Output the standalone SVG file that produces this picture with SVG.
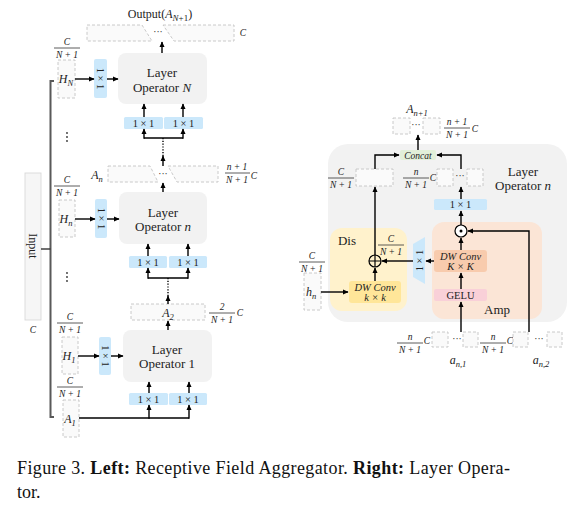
<svg xmlns="http://www.w3.org/2000/svg" width="587" height="517" viewBox="0 0 587 517">
<defs>
<marker id="ah" viewBox="0 0 10 10" refX="9" refY="5" markerWidth="6" markerHeight="6" markerUnits="userSpaceOnUse" orient="auto"><path d="M0,0.5 L10,5 L0,9.5 z" fill="#000"/></marker>
<style>
text{font-family:"Liberation Serif","DejaVu Serif",serif;fill:#222;}
.t13{font-size:13px;text-anchor:middle;}
.t11{font-size:12px;text-anchor:middle;}
.t9{font-size:9.5px;text-anchor:middle;}
.b{font-size:10.5px;text-anchor:middle;}
.fr{font-size:9.5px;text-anchor:middle;font-style:italic;}
.it{font-style:italic;}
.op{fill:#f2f2f2;}
.blue{fill:#cbe8fb;}
.dash{fill:#fafafa;stroke:#c4c4c4;stroke-width:0.9;stroke-dasharray:3,2;}
.ln{fill:none;stroke:#000;stroke-width:1.4;}
.arr{fill:none;stroke:#000;stroke-width:1.4;marker-end:url(#ah);}
.dot{fill:none;stroke:#000;stroke-width:1.4;stroke-dasharray:1.2,1.6;}
.frl{stroke:#333;stroke-width:0.8;}
.cap{font-size:18px;fill:#111;}
</style>
</defs>

<!-- LEFT PANEL -->
<g id="input">
<rect x="25" y="173" width="16" height="147" fill="#f6f6f6" stroke="#d9d9d9" stroke-width="0.9"/>
<text class="t11" font-size="11" transform="translate(33,246) rotate(90)" dy="4">Input</text>
<text class="t9 it" x="33" y="333">C</text>
</g>

<g id="output">
<text class="t11" x="160" y="18" font-size="12.5">Output(<tspan class="it">A</tspan><tspan font-size="9" dy="2.5" class="it">N</tspan><tspan font-size="9">+1</tspan><tspan dy="-2.5">)</tspan></text>
<polygon class="dash" points="87,25 142,25 152,41 87,41"/>
<polygon class="dash" points="163,25 234,25 234,41 174,41"/>
<text class="t9" x="158" y="35">···</text>
<text class="t9 it" x="243" y="36">C</text>
</g>

<g id="layerN">
<rect class="op" x="118" y="53" width="89" height="51" rx="8"/>
<text class="t13" x="162" y="77">Layer</text>
<text class="t13" x="162" y="92">Operator <tspan class="it">N</tspan></text>
<rect class="blue" x="94" y="59" width="13" height="39" rx="2"/>
<text class="b" transform="translate(100.5,78.5) rotate(90)" dy="3.5">1 × 1</text>
<rect class="blue" x="124" y="117" width="39" height="12" rx="1.5"/>
<rect class="blue" x="164" y="117" width="39" height="12" rx="1.5"/>
<text class="b" x="143.5" y="126.5">1 × 1</text>
<text class="b" x="183.5" y="126.5">1 × 1</text>
</g>
<g id="HN">
<rect class="dash" x="58" y="60" width="17" height="38"/>
<text class="t11 it" x="66" y="83">H<tspan font-size="8.5" dy="2.5">N</tspan></text>
<text class="fr" x="67" y="44.5">C</text><line class="frl" x1="54" y1="48" x2="80" y2="48"/><text class="fr" x="67" y="57.5">N + 1</text>
</g>

<g id="An">
<text class="t11 it" x="97" y="179">A<tspan font-size="8.5" dy="2.5">n</tspan></text>
<polygon class="dash" points="108,166 150,166 158,182 108,182"/>
<polygon class="dash" points="168,166 218,166 218,182 177,182"/>
<text class="t9" x="163" y="177">···</text>
<text class="fr" x="237" y="169.5">n + 1</text><line class="frl" x1="225" y1="173" x2="250" y2="173"/><text class="fr" x="237" y="182.5">N + 1</text>
<text class="t9 it" x="254" y="179">C</text>
</g>

<g id="layern">
<rect class="op" x="119" y="192" width="88" height="52" rx="8"/>
<text class="t13" x="163" y="217">Layer</text>
<text class="t13" x="163" y="231">Operator <tspan class="it">n</tspan></text>
<rect class="blue" x="95" y="199" width="12" height="39" rx="2"/>
<text class="b" transform="translate(101,218.5) rotate(90)" dy="3.5">1 × 1</text>
<rect class="blue" x="129" y="256" width="38" height="12" rx="1.5"/>
<rect class="blue" x="169" y="256" width="38" height="12" rx="1.5"/>
<text class="b" x="148" y="265.5">1 × 1</text>
<text class="b" x="188" y="265.5">1 × 1</text>
</g>
<g id="Hn">
<rect class="dash" x="59" y="200" width="16" height="37"/>
<text class="t11 it" x="66" y="223">H<tspan font-size="8.5" dy="2.5">n</tspan></text>
<text class="fr" x="67" y="182.5">C</text><line class="frl" x1="54" y1="186" x2="80" y2="186"/><text class="fr" x="67" y="195.5">N + 1</text>
</g>

<g id="A2">
<rect class="dash" x="131" y="304" width="74" height="16"/>
<text class="t11 it" x="168" y="317">A<tspan font-size="8.5" dy="2.5">2</tspan></text>
<text class="fr" x="222" y="309.5">2</text><line class="frl" x1="209" y1="313" x2="235" y2="313"/><text class="fr" x="222" y="322.5">N + 1</text>
<text class="t9 it" x="240" y="316">C</text>
</g>

<g id="layer1">
<rect class="op" x="123" y="330" width="89" height="52" rx="8"/>
<text class="t13" x="167" y="354">Layer</text>
<text class="t13" x="167" y="368">Operator 1</text>
<rect class="blue" x="99" y="337" width="12" height="38" rx="2"/>
<text class="b" transform="translate(105,356) rotate(90)" dy="3.5">1 × 1</text>
<rect class="blue" x="129" y="393" width="39" height="12" rx="1.5"/>
<rect class="blue" x="169" y="393" width="38" height="12" rx="1.5"/>
<text class="b" x="148.5" y="402.5">1 × 1</text>
<text class="b" x="188" y="402.5">1 × 1</text>
</g>
<g id="H1">
<rect class="dash" x="62" y="337" width="16" height="37"/>
<text class="t11 it" x="69" y="360">H<tspan font-size="8.5" dy="2.5">1</tspan></text>
<text class="fr" x="70" y="319.5">C</text><line class="frl" x1="57" y1="323" x2="83" y2="323"/><text class="fr" x="70" y="332.5">N + 1</text>
</g>
<g id="A1">
<rect class="dash" x="63" y="400" width="16" height="37"/>
<text class="t11 it" x="70" y="423">A<tspan font-size="8.5" dy="2.5">1</tspan></text>
<text class="fr" x="70" y="383.5">C</text><line class="frl" x1="57" y1="387" x2="83" y2="387"/><text class="fr" x="70" y="396.5">N + 1</text>
</g>

<g id="left-connectors">
<path d="M54,81 H50.5 V417 H54" fill="none" stroke="#595959" stroke-width="2"/>
<line x1="41" y1="249" x2="50.5" y2="249" stroke="#333" stroke-width="1.4"/>
<g fill="#333"><circle cx="67" cy="133" r="0.9"/><circle cx="67" cy="137" r="0.9"/><circle cx="67" cy="141" r="0.9"/>
<circle cx="67" cy="273" r="0.9"/><circle cx="67" cy="277" r="0.9"/><circle cx="67" cy="281" r="0.9"/></g>
<line class="arr" x1="162" y1="53" x2="162" y2="42"/>
<line class="arr" x1="75" y1="79" x2="94" y2="79"/>
<line class="arr" x1="107" y1="79" x2="118" y2="79"/>
<line class="arr" x1="144" y1="117" x2="144" y2="104"/>
<line class="arr" x1="183" y1="117" x2="183" y2="104"/>
<path class="ln" d="M144,138 H183"/>
<line class="arr" x1="144" y1="138.7" x2="144" y2="129"/>
<line class="arr" x1="183" y1="138.7" x2="183" y2="129"/>
<line class="dot" x1="163" y1="138" x2="163" y2="158"/>
<line class="arr" x1="163" y1="166" x2="163" y2="156"/>
<line class="arr" x1="163" y1="192" x2="163" y2="183"/>
<line class="arr" x1="75" y1="219" x2="95" y2="219"/>
<line class="arr" x1="107" y1="219" x2="119" y2="219"/>
<line class="arr" x1="148" y1="256" x2="148" y2="244"/>
<line class="arr" x1="188" y1="256" x2="188" y2="244"/>
<path class="ln" d="M148,278 H188"/>
<line class="arr" x1="148" y1="278.7" x2="148" y2="268"/>
<line class="arr" x1="188" y1="278.7" x2="188" y2="268"/>
<line class="dot" x1="168" y1="278" x2="168" y2="298"/>
<line class="arr" x1="168" y1="304" x2="168" y2="296"/>
<line class="arr" x1="168" y1="330" x2="168" y2="321"/>
<line class="arr" x1="78" y1="356" x2="99" y2="356"/>
<line class="arr" x1="111" y1="356" x2="123" y2="356"/>
<line class="arr" x1="149" y1="393" x2="149" y2="382"/>
<line class="arr" x1="189" y1="393" x2="189" y2="382"/>
<path class="ln" d="M79,418 H189"/>
<line class="arr" x1="149" y1="418.7" x2="149" y2="405"/>
<line class="arr" x1="189" y1="418.7" x2="189" y2="405"/>
</g>

<!-- RIGHT PANEL -->
<g id="layer-operator-n">
<rect class="op" x="328" y="144" width="239" height="178" rx="20"/>
<text class="t13" x="523" y="176">Layer</text>
<text class="t13" x="523" y="190">Operator <tspan class="it">n</tspan></text>
</g>

<g id="Anp1">
<text class="t11 it" x="417" y="113">A<tspan font-size="8.5" dy="2.5">n+1</tspan></text>
<rect class="dash" x="393" y="118" width="17" height="16"/>
<rect class="dash" x="423" y="118" width="17" height="16"/>
<text class="t9" x="416" y="128">···</text>
<text class="fr" x="457" y="124.5">n + 1</text><line class="frl" x1="444" y1="128" x2="470" y2="128"/><text class="fr" x="457" y="137.5">N + 1</text>
<text class="t9 it" x="475" y="132">C</text>
</g>

<g id="concat">
<rect x="400" y="150" width="36" height="10" rx="2" fill="#e2f0d9"/>
<text class="t9 it" x="418" y="158.5" font-size="10">Concat</text>
</g>

<g id="mid-features">
<rect class="dash" x="356" y="169" width="37" height="17"/>
<text class="fr" x="341" y="174.5">C</text><line class="frl" x1="328" y1="178" x2="354" y2="178"/><text class="fr" x="341" y="187.5">N + 1</text>
<text class="fr" x="416" y="174.5">n</text><line class="frl" x1="403" y1="178" x2="429" y2="178"/><text class="fr" x="416" y="187.5">N + 1</text>
<text class="t9 it" x="433" y="181">C</text>
<rect class="dash" x="437" y="169" width="16" height="17"/>
<rect class="dash" x="467" y="169" width="16" height="17"/>
<text class="t9" x="460" y="179">···</text>
</g>

<g id="proj">
<rect class="blue" x="434" y="199" width="53" height="11" rx="1.5"/>
<text class="b" x="460.5" y="208">1 × 1</text>
</g>

<g id="amp">
<rect x="432" y="222" width="110" height="97" rx="12" fill="#fbe5d6"/>
<text class="t13" x="497" y="314" font-size="12.5">Amp</text>
<rect x="434" y="250" width="53" height="22" rx="3" fill="#f8cbad"/>
<text class="b it" x="460.5" y="259.5">DW Conv</text>
<text class="b it" x="460.5" y="270">K × K</text>
<rect x="434" y="289" width="53" height="12" rx="2" fill="#f9d0d8"/>
<text class="b" x="460.5" y="298.5" font-size="10" fill="#5a2a2a">GELU</text>
<circle cx="461" cy="231" r="6" fill="#fff" stroke="#000" stroke-width="1.2"/>
<circle cx="461" cy="231" r="1.5" fill="#000"/>
</g>

<g id="trap">
<polygon points="413,244 425,237 425,284 413,277" fill="#cbe8fb"/>
<text class="b" transform="translate(419,260.5) rotate(-90)" dy="3.5">1 × 1</text>
</g>

<g id="dis">
<rect x="330" y="228" width="77" height="83" rx="12" fill="#fff2cc"/>
<text class="t13" x="347" y="245" font-size="12.5">Dis</text>
<text class="fr" x="391" y="241.5">C</text><line class="frl" x1="378" y1="245" x2="404" y2="245"/><text class="fr" x="391" y="254.5">N + 1</text>
<rect x="349" y="281" width="52" height="22" rx="3" fill="#ffe699"/>
<text class="b it" x="375" y="290.5">DW Conv</text>
<text class="b it" x="375" y="300.5">k × k</text>
<circle cx="375" cy="261" r="6" fill="none" stroke="#000" stroke-width="1.2"/>
<path d="M369,261 H381 M375,255 V267" stroke="#000" stroke-width="1.2"/>
</g>

<g id="hn">
<rect class="dash" x="304" y="273" width="17" height="37"/>
<text class="t11 it" x="311" y="296">h<tspan font-size="8.5" dy="2.5">n</tspan></text>
<text class="fr" x="312" y="258.5">C</text><line class="frl" x1="299" y1="262" x2="325" y2="262"/><text class="fr" x="312" y="271.5">N + 1</text>
</g>

<g id="an-inputs">
<text class="fr" x="410" y="339.5">n</text><line class="frl" x1="397" y1="343" x2="423" y2="343"/><text class="fr" x="410" y="352.5">N + 1</text>
<text class="t9 it" x="427" y="344">C</text>
<rect class="dash" x="432" y="332" width="16" height="15"/>
<rect class="dash" x="463" y="332" width="15" height="15"/>
<text class="t9" x="457" y="342">···</text>
<text class="fr" x="493" y="339.5">n</text><line class="frl" x1="480" y1="343" x2="506" y2="343"/><text class="fr" x="493" y="352.5">N + 1</text>
<text class="t9 it" x="510" y="344">C</text>
<rect class="dash" x="513" y="332" width="15" height="15"/>
<rect class="dash" x="547" y="332" width="15" height="15"/>
<text class="t9" x="539" y="342">···</text>
<text class="t11 it" x="458" y="364">a<tspan font-size="8.5" dy="2.5">n,1</tspan></text>
<text class="t11 it" x="541" y="364">a<tspan font-size="8.5" dy="2.5">n,2</tspan></text>
</g>

<g id="right-connectors">
<line class="arr" x1="418" y1="150" x2="418" y2="135"/>
<path class="arr" d="M375,169 V155 H399"/>
<path class="arr" d="M461,169 V155 H437"/>
<line class="arr" x1="461" y1="199" x2="461" y2="187"/>
<line class="arr" x1="461" y1="225" x2="461" y2="211"/>
<line class="arr" x1="461" y1="250" x2="461" y2="238"/>
<line class="arr" x1="461" y1="289" x2="461" y2="273"/>
<line class="arr" x1="461" y1="332" x2="461" y2="302"/>
<path class="arr" d="M529,332 V231 H468"/>
<line class="arr" x1="434" y1="261" x2="426" y2="261"/>
<line class="arr" x1="413" y1="261" x2="382" y2="261"/>
<line class="arr" x1="375" y1="281" x2="375" y2="268"/>
<line class="arr" x1="375" y1="255" x2="375" y2="187"/>
<line class="arr" x1="321" y1="292" x2="348" y2="292"/>
</g>

<g id="caption">
<text class="cap" x="17" y="474" textLength="493" lengthAdjust="spacing">Figure 3. <tspan font-weight="bold">Left:</tspan> Receptive Field Aggregator. <tspan font-weight="bold">Right:</tspan> Layer Opera-</text>
<text class="cap" x="17" y="498">tor.</text>
</g>
</svg>
